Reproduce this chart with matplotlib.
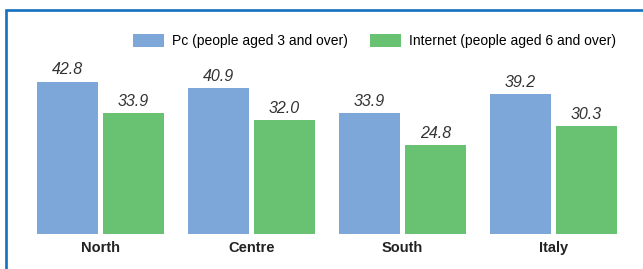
import matplotlib
matplotlib.use("Agg")
import matplotlib.pyplot as plt
from matplotlib.patches import Patch, Rectangle
import numpy as np

# Data.
regions = ["North", "Centre", "South", "Italy"]
pc_users = [42.8, 40.9, 33.9, 39.2]
internet_users = [33.9, 32.0, 24.8, 30.3]
series_labels = ["Pc (people aged 3 and over)", "Internet (people aged 6 and over)"]

blue = "#7da7d9"
green = "#69c172"
frame_blue = "#1570bf"
font = ["Liberation Sans", "DejaVu Sans"]

W, H = 643, 269
fig = plt.figure(figsize=(W / 100, H / 100), dpi=100)

# Axes placed in pixel terms: baseline at y=233.5 px, 3.55 px per unit.
bottom_px = 233.5
px_per_unit = 3.55
ymax = 60
ax = fig.add_axes([0, (H - bottom_px) / H, 1, ymax * px_per_unit / H])
group_px = 151
first_px = 100.5
ax.set_xlim(-first_px / group_px, (W - first_px) / group_px)
ax.set_ylim(0, ymax)
ax.axis("off")

x = np.arange(len(regions))
width = 61 / group_px
offset = 33 / group_px
bars_pc = ax.bar(x - offset, pc_users, width, color=blue)
bars_net = ax.bar(x + offset, internet_users, width, color=green)

# Value labels above the bars.
for bars in (bars_pc, bars_net):
    ax.bar_label(bars, labels=[f"{v:.1f}" for v in bars.datavalues], padding=3,
                 fontsize=11.5, fontstyle="italic", color="#333333", family=font)

# Category labels under each group.
for xi, name in zip(x, regions):
    ax.text(xi, -4, name, ha="center", va="center", fontsize=10.5,
            fontweight="bold", color="#222222", family=font)

# Legend.
handles = [Patch(facecolor=blue), Patch(facecolor=green)]
fig.legend(handles, series_labels, loc="center left",
           bbox_to_anchor=(133 / W, (H - 41) / H), ncol=2, frameon=False,
           handlelength=2.2, handleheight=1.15, handletextpad=0.6,
           columnspacing=1.6, borderpad=0, borderaxespad=0,
           prop={"family": font, "size": 10})

# Blue frame (left and top edges visible).
fig.patches.append(Rectangle((6 / W, -0.5), 2, 0.5 + (H - 10) / H,
                             transform=fig.transFigure, fill=False,
                             edgecolor=frame_blue, linewidth=1.9))

fig.savefig("out.png", dpi=100)
